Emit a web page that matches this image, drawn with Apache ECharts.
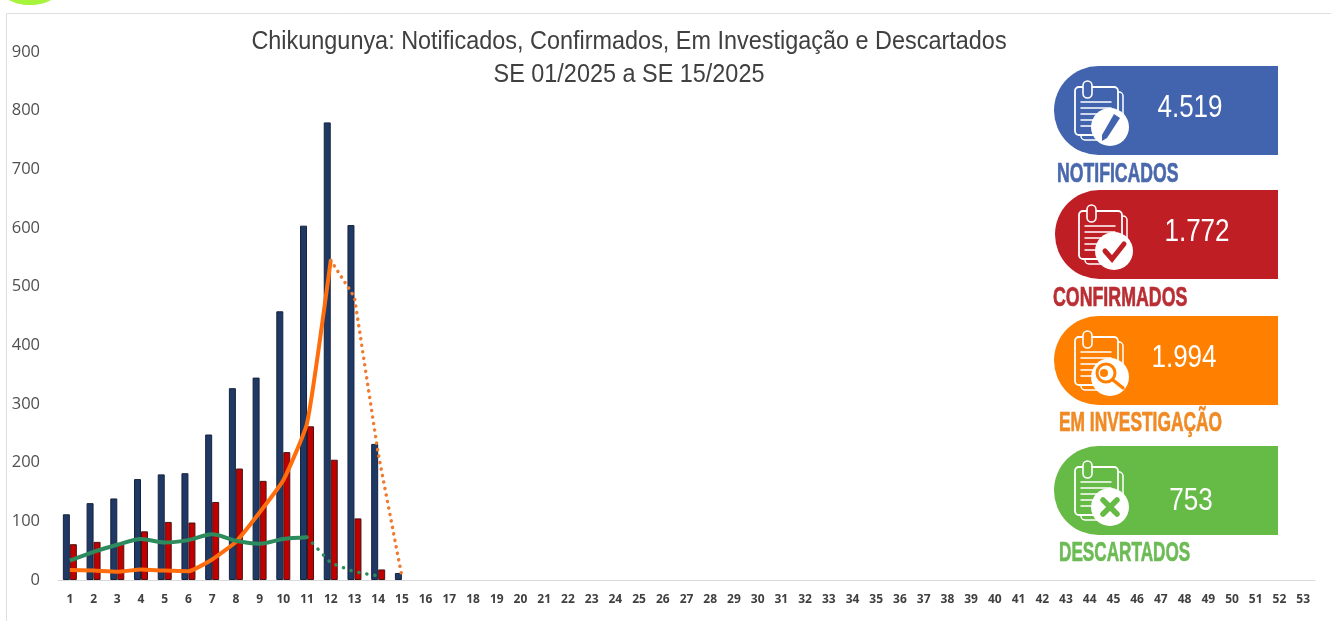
<!DOCTYPE html>
<html>
<head>
<meta charset="utf-8">
<title>Chikungunya</title>
<style>
html,body{margin:0;padding:0;background:#fff;}
#chart_main{width:1331px;height:621px;}
</style>
<script src="https://cdn.jsdelivr.net/npm/echarts@6/dist/echarts.min.js"></script>
</head>
<body>
<div id="chart_main"></div>
<script>
var semanas = [];
for (var s = 1; s <= 53; s++) { semanas.push(String(s)); }

// valores
var notificados = [112,131,139,172,180,182,248,327,345,458,604,780,605,232,12];
var confirmados = [61,65,62,83,99,98,133,190,169,218,262,205,105,18];
var investigacao = [17,16,14,18,16,15,35,65,115,170,267,545];
var investigacaoPontilhado = [null,null,null,null,null,null,null,null,null,null,null,545,482,216,6];
var descartados = [33,48,60,70,64,68,78,67,62,70,73];
var descartadosPontilhado = [null,null,null,null,null,null,null,null,null,null,73,29,14,7];

var cards = [
	{nome:'NOTIFICADOS', valor:'4.519', cor:'#4264ae', corTexto:'#4a69ad', x:1054, y:66, iconX:0, valorX:1190, valorY:108, nomeX:1057, nomeY:174, icone:'pen', nomeEsc:0.63},
	{nome:'CONFIRMADOS', valor:'1.772', cor:'#bf1e24', corTexto:'#b92d33', x:1055, y:190, iconX:3, valorX:1197, valorY:232, nomeX:1053, nomeY:298, icone:'check', nomeEsc:0.635},
	{nome:'EM INVESTIGAÇÃO', valor:'1.994', cor:'#ff8000', corTexto:'#f08a24', x:1054, y:316, iconX:0, valorX:1184, valorY:358, nomeX:1059, nomeY:423, icone:'lupa', nomeEsc:0.62},
	{nome:'DESCARTADOS', valor:'753', cor:'#66bb46', corTexto:'#6cbb55', x:1054, y:446, iconX:0, valorX:1191, valorY:501, nomeX:1059, nomeY:553, icone:'x', nomeEsc:0.613}
];

function linha(x1,y1,x2,y2,cor,w){
	return {type:'line', shape:{x1:x1,y1:y1,x2:x2,y2:y2}, style:{stroke:cor,lineWidth:w,lineCap:'round'}};
}

// desenho do icone da prancheta
function iconeCard(c){
	var filhos = [];
	var b = '#ffffff';
	filhos.push({type:'rect', shape:{x:27,y:26,width:42,height:48,r:4}, style:{fill:'none',stroke:b,lineWidth:1.5}});
	filhos.push({type:'rect', shape:{x:21,y:21,width:43,height:48,r:4}, style:{fill:c.cor,stroke:b,lineWidth:1.8}});
	filhos.push({type:'rect', shape:{x:29,y:15,width:9,height:17,r:4.5}, style:{fill:c.cor,stroke:b,lineWidth:1.6}});
	var ys = [36,42,48,54,60];
	for (var i = 0; i < ys.length; i++) {
		filhos.push(linha(27, ys[i], i < 2 ? 57 : 43, ys[i], b, 1.5));
	}
	filhos.push({type:'circle', shape:{cx:56,cy:61,r:19}, style:{fill:b}});
	if (c.icone == 'pen') {
		filhos.push({type:'polygon', shape:{points:[[60,48],[66,52],[53,72],[48,75],[48,69]]}, style:{fill:c.cor}});
	} else if (c.icone == 'check') {
		filhos.push({type:'polyline', shape:{points:[[47,61],[54,69],[66,54]]}, style:{fill:'none',stroke:c.cor,lineWidth:5,lineCap:'round'}});
	} else if (c.icone == 'lupa') {
		filhos.push({type:'circle', shape:{cx:52,cy:57,r:9}, style:{fill:'none',stroke:c.cor,lineWidth:3}});
		filhos.push({type:'circle', shape:{cx:50,cy:57,r:4}, style:{fill:c.cor}});
		filhos.push(linha(59,64,69,72,c.cor,3.5));
	} else {
		filhos.push(linha(49,54,63,68,c.cor,5.5));
		filhos.push(linha(63,54,49,68,c.cor,5.5));
	}
	return {type:'group', x:c.x + c.iconX, y:c.y, silent:true, children:filhos};
}

function montarGraphic(){
	var g = [];
	// mancha verde no canto e moldura
	g.push({type:'ellipse', shape:{cx:30,cy:-12,rx:30,ry:17}, style:{fill:'#a6f53c'}, silent:true});
	g.push({type:'polyline', shape:{points:[[6.5,621],[6.5,13.5],[1331,13.5]]}, style:{fill:'none',stroke:'#dedede',lineWidth:1}, silent:true});
	// titulo em duas linhas, condensado
	g.push({type:'text', x:629, y:42, scaleX:0.937, silent:true, style:{text:'Chikungunya: Notificados, Confirmados, Em Investigação e Descartados',fill:'#404040',font:'25px "Liberation Sans"',align:'center',verticalAlign:'middle'}});
	g.push({type:'text', x:629, y:75, scaleX:0.937, silent:true, style:{text:'SE 01/2025 a SE 15/2025',fill:'#404040',font:'25px "Liberation Sans"',align:'center',verticalAlign:'middle'}});
	for (var i = 0; i < cards.length; i++) {
		var c = cards[i];
		g.push({type:'rect', x:c.x, y:c.y, shape:{x:0,y:0,width:1278-c.x,height:89,r:[44.5,0,0,44.5]}, style:{fill:c.cor}, silent:true});
		g.push(iconeCard(c));
		g.push({type:'text', x:c.valorX, y:c.valorY, scaleX:0.84, silent:true, style:{text:c.valor,fill:'#ffffff',font:'31px "Liberation Sans"',align:'center',verticalAlign:'middle'}});
		g.push({type:'text', x:c.nomeX, y:c.nomeY, scaleX:c.nomeEsc, silent:true, style:{text:c.nome,fill:c.corTexto,stroke:c.corTexto,lineWidth:0.7,font:'bold 28px "Liberation Sans"',align:'left',verticalAlign:'middle'}});
	}
	return g;
}

var myChart = echarts.init(document.getElementById('chart_main'));
myChart.setOption({
	animation:false,
	backgroundColor:'#ffffff',
	grid:{left:58, right:16, top:52, bottom:41},
	xAxis:{
		type:'category',
		data:semanas,
		axisTick:{show:false},
		axisLine:{lineStyle:{color:'#d9d9d9',width:1}},
		axisLabel:{
			interval:0,
			margin:14,
			fontFamily:'Open Sans',
			fontWeight:'bold',
			fontSize:12,
			color:'#404040'
		}
	},
	yAxis:{
		type:'value',
		min:0,
		max:900,
		interval:100,
		splitLine:{show:false},
		axisLine:{show:false},
		axisTick:{show:false},
		axisLabel:{
			margin:18,
			padding:[4,0,0,0],
			fontFamily:'Open Sans',
			fontSize:16.5,
			color:'#505050'
		}
	},
	series:[
		{
			name:'Notificados', type:'bar', data:notificados,
			barWidth:7, barGap:'0%',
			itemStyle:{color:'#1f3864',borderColor:'#16233f',borderWidth:1}
		},
		{
			name:'Confirmados', type:'bar', data:confirmados,
			barWidth:7,
			itemStyle:{color:'#c00000',borderColor:'#4a1414',borderWidth:1}
		},
		{
			name:'Em investigação', type:'line', data:investigacao,
			showSymbol:false, smooth:0.15, z:5,
			lineStyle:{color:'#ff6d0d',width:4}
		},
		{
			name:'Em investigação (pontilhado)', type:'line', data:investigacaoPontilhado,
			showSymbol:false, z:5,
			lineStyle:{color:'#ee7b30',width:3.5,type:[0.1,6.5],cap:'round'}
		},
		{
			name:'Descartados', type:'line', data:descartados,
			showSymbol:false, smooth:0.3, z:6,
			lineStyle:{color:'#2e8b5e',width:4}
		},
		{
			name:'Descartados (pontilhado)', type:'line', data:descartadosPontilhado,
			showSymbol:false, z:6,
			lineStyle:{color:'#2e8b5e',width:3.5,type:[0.1,8],cap:'round'}
		}
	],
	graphic:montarGraphic()
});

window.addEventListener("resize", function () {
	myChart.resize();
});
</script>
</body>
</html>
